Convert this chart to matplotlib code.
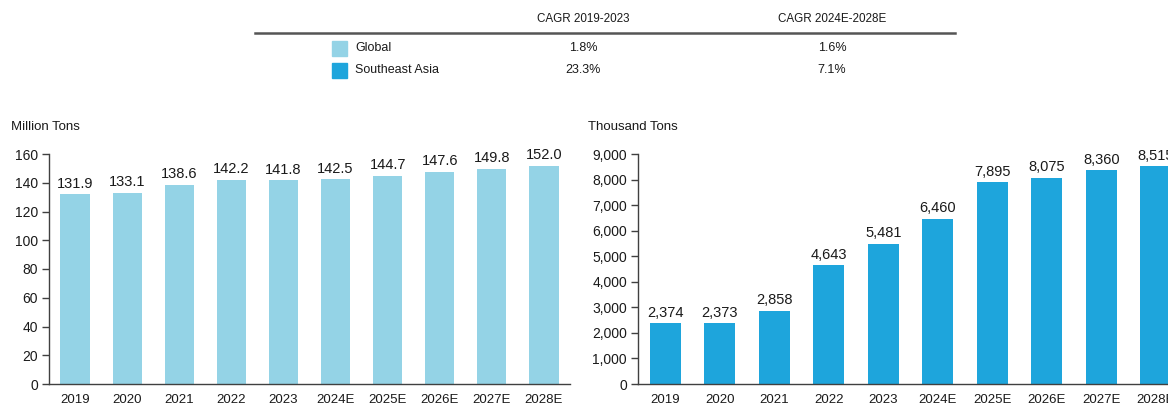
import matplotlib
matplotlib.use("Agg")
import matplotlib.pyplot as plt
from matplotlib.patches import Rectangle
from matplotlib.lines import Line2D

plt.rcParams['font.family'] = ['Liberation Sans', 'DejaVu Sans']

years = ["2019", "2020", "2021", "2022", "2023", "2024E", "2025E", "2026E", "2027E", "2028E"]
global_vals = [131.9, 133.1, 138.6, 142.2, 141.8, 142.5, 144.7, 147.6, 149.8, 152.0]
sea_vals = [2374, 2373, 2858, 4643, 5481, 6460, 7895, 8075, 8360, 8515]
table_headers = ["CAGR 2019-2023", "CAGR 2024E-2028E"]
table_rows = ["Global", "Southeast Asia"]
cagr_hist = ["1.8%", "23.3%"]
cagr_fcst = ["1.6%", "7.1%"]

c_global = "#94D3E6"
c_sea = "#1EA5DC"
axis_col = "#404040"
txt_col = "#1a1a1a"

W, H = 1168, 405
fig = plt.figure(figsize=(W / 100, H / 100), dpi=100)

def px(x, y):
    return x / W, 1 - y / H

def style(ax):
    for s in ["top", "right"]:
        ax.spines[s].set_visible(False)
    for s in ["left", "bottom"]:
        ax.spines[s].set_color(axis_col)
        ax.spines[s].set_linewidth(1.0)
    ax.tick_params(axis="y", length=5, width=1, color=axis_col, labelsize=10, labelcolor=txt_col, pad=3)
    ax.tick_params(axis="x", length=0, labelsize=9.5, labelcolor=txt_col, pad=7)

# Left chart
ax1 = fig.add_axes([49 / W, 21 / H, 521 / W, 230 / H])
x = range(len(years))
ax1.bar(x, global_vals, width=0.56, color=c_global)
ax1.set_xlim(-0.5, len(years) - 0.5)
ax1.set_ylim(0, 160)
ax1.set_yticks(range(0, 161, 20))
ax1.set_xticks(list(x))
ax1.set_xticklabels(years)
style(ax1)
for i, v in enumerate(global_vals):
    ax1.text(i, v + 2.5, f"{v:.1f}", ha="center", va="bottom", fontsize=10.5, color=txt_col)
fig.text(*px(11, 127), "Million Tons", ha="left", va="center", fontsize=9.5, color=txt_col)

# Right chart
ax2 = fig.add_axes([638 / W, 21 / H, 545 / W, 230 / H])
ax2.bar(x, sea_vals, width=0.57, color=c_sea)
ax2.set_xlim(-0.5, len(years) - 0.5)
ax2.set_ylim(0, 9000)
ax2.set_yticks(range(0, 9001, 1000))
ax2.set_yticklabels([f"{t:,}" for t in range(0, 9001, 1000)])
ax2.set_xticks(list(x))
ax2.set_xticklabels(years)
style(ax2)
for i, v in enumerate(sea_vals):
    ax2.text(i, v + 140, f"{v:,}", ha="center", va="bottom", fontsize=10.5, color=txt_col)
fig.text(*px(588, 127), "Thousand Tons", ha="left", va="center", fontsize=9.5, color=txt_col)

# Table at top
col_x = [583, 832]
for cx, h in zip(col_x, table_headers):
    fig.text(*px(cx, 19), h, ha="center", va="center", fontsize=8.4, color=txt_col)
fig.add_artist(Line2D([255 / W, 955 / W], [1 - 33 / H, 1 - 33 / H], color="#555555", lw=1.8,
                      transform=fig.transFigure))
row_y = [48, 70]
for ry, name, c, a, b in zip(row_y, table_rows, [c_global, c_sea], cagr_hist, cagr_fcst):
    x0, y0 = px(332, ry + 8)
    fig.add_artist(Rectangle((x0, y0), 15 / W, 15 / H, color=c, transform=fig.transFigure))
    fig.text(*px(355, ry), name, ha="left", va="center", fontsize=9, color=txt_col)
    fig.text(*px(col_x[0], ry), a, ha="center", va="center", fontsize=9, color=txt_col)
    fig.text(*px(col_x[1], ry), b, ha="center", va="center", fontsize=9, color=txt_col)

fig.savefig("out.png", dpi=100)
